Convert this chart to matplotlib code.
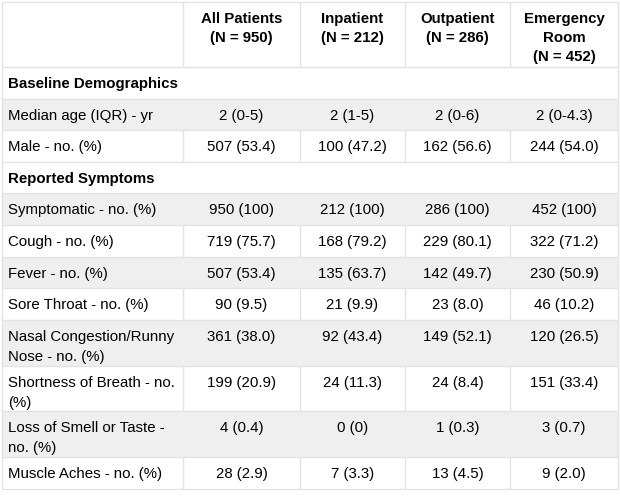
import matplotlib.pyplot as plt
from matplotlib.patches import Rectangle

plt.rcParams['font.family'] = ['Liberation Sans', 'DejaVu Sans']

# header
col_titles = ["All Patients\n(N = 950)", "Inpatient\n(N = 212)",
              "Outpatient\n(N = 286)", "Emergency\nRoom\n(N = 452)"]

# rows
row_labels = [
    "Baseline Demographics",
    "Median age (IQR) - yr",
    "Male - no. (%)",
    "Reported Symptoms",
    "Symptomatic - no. (%)",
    "Cough - no. (%)",
    "Fever - no. (%)",
    "Sore Throat - no. (%)",
    "Nasal Congestion/Runny\nNose - no. (%)",
    "Shortness of Breath - no.\n(%)",
    "Loss of Smell or Taste -\nno. (%)",
    "Muscle Aches - no. (%)",
]
section_rows = ["Baseline Demographics", "Reported Symptoms"]

all_patients = ["", "2 (0-5)", "507 (53.4)", "", "950 (100)", "719 (75.7)",
                "507 (53.4)", "90 (9.5)", "361 (38.0)", "199 (20.9)",
                "4 (0.4)", "28 (2.9)"]
inpatient = ["", "2 (1-5)", "100 (47.2)", "", "212 (100)", "168 (79.2)",
             "135 (63.7)", "21 (9.9)", "92 (43.4)", "24 (11.3)",
             "0 (0)", "7 (3.3)"]
outpatient = ["", "2 (0-6)", "162 (56.6)", "", "286 (100)", "229 (80.1)",
              "142 (49.7)", "23 (8.0)", "149 (52.1)", "24 (8.4)",
              "1 (0.3)", "13 (4.5)"]
emergency = ["", "2 (0-4.3)", "244 (54.0)", "", "452 (100)", "322 (71.2)",
             "230 (50.9)", "46 (10.2)", "120 (26.5)", "151 (33.4)",
             "3 (0.7)", "9 (2.0)"]
columns = [all_patients, inpatient, outpatient, emergency]

# layout (pixels)
col_edges = [2, 183, 300, 405, 510, 618]
top = 2
header_h = 65
row_h1 = 31.6
row_h2 = 45.8
line_gap = 20
grid_col = '#e3e3e3'
shade = '#efefef'
fs = 10.8

fig = plt.figure(figsize=(6.2, 5), dpi=100)
ax = fig.add_axes([0, 0, 1, 1])
ax.set_xlim(0, 620)
ax.set_ylim(500, 0)
ax.axis('off')

x0, x1 = col_edges[0], col_edges[-1]

# header
y = top
ax.hlines(y, x0, x1, color=grid_col, lw=1)
for j, title in enumerate(col_titles):
    cx = (col_edges[j + 1] + col_edges[j + 2]) / 2
    for k, line in enumerate(title.split('\n')):
        ax.text(cx, y + 17 + 19 * k, line, ha='center', va='center',
                fontsize=fs, fontweight='bold')
ax.vlines(col_edges, y, y + header_h, color=grid_col, lw=1)
y += header_h
ax.hlines(y, x0, x1, color=grid_col, lw=1)

# body
shade_on = False
for i, label in enumerate(row_labels):
    n_lines = label.count('\n') + 1
    h = row_h1 if n_lines == 1 else row_h2
    if label in section_rows:
        ax.text(8, y + 17, label, ha='left', va='center', fontsize=fs,
                fontweight='bold')
        ax.vlines([x0, x1], y, y + h, color=grid_col, lw=1)
        shade_on = True
    else:
        if shade_on:
            ax.add_patch(Rectangle((x0, y), x1 - x0, h, facecolor=shade,
                                   edgecolor='none', zorder=0))
            ax.vlines([x0, x1], y, y + h, color=grid_col, lw=1, zorder=1)
        else:
            ax.vlines(col_edges, y, y + h, color=grid_col, lw=1, zorder=1)
        shade_on = not shade_on
        for k, line in enumerate(label.split('\n')):
            ax.text(8, y + 17 + line_gap * k, line, ha='left', va='center',
                    fontsize=fs)
        for j, col in enumerate(columns):
            cx = (col_edges[j + 1] + col_edges[j + 2]) / 2
            ax.text(cx, y + 17, col[i], ha='center', va='center', fontsize=fs)
    y += h
    ax.hlines(y, x0, x1, color=grid_col, lw=1, zorder=1)

fig.savefig('out.png', dpi=100)
